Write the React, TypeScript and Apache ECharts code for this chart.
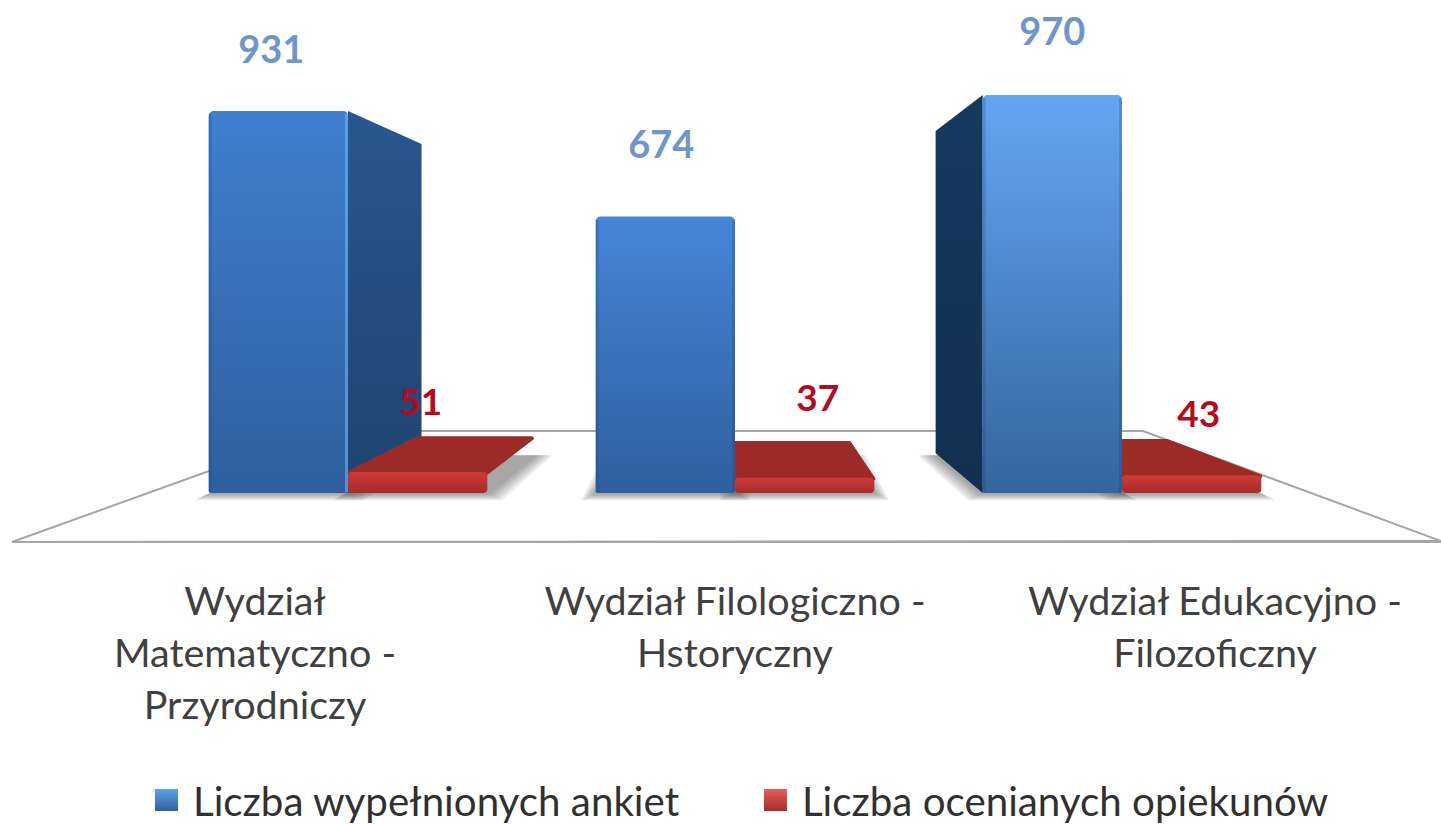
import React, { useEffect, useRef } from "react";
import * as echarts from "echarts";

const categories = [
  "Wydział\nMatematyczno -\nPrzyrodniczy",
  "Wydział Filologiczno -\nHstoryczny",
  "Wydział Edukacyjno -\nFilozoficzny",
];
const surveyName = "Liczba wypełnionych ankiet";
const tutorName = "Liczba ocenianych opiekunów";
const surveyValues = [931, 674, 970];
const tutorValues = [51, 37, 43];

// Layout and styling (not data)
const FONT = "Lato";
const BAR_FRACTION = 0.36;
const DEPTH = 0.19;
const TUTOR_DEPTH = 0.18;
const VANISH: [number, number] = [1, 509];
const surveyLabelOffset = [[-7, -63], [-4, -73], [0, -65]];
const tutorLabelOffset = [[3, -72], [13, -81], [7, -63]];
const frontTop = ["#3f80cf", "#4686d8", "#64a6f2"];
const frontBottom = ["#2f5f9e", "#2f5f9e", "#34659f"];
const sideTop = ["#28578f", "", "#16395f"];
const sideBottom = ["#1f4470", "", "#122f4f"];
const shadowLayers = [18, 15, 12, 9, 6, 3];

const vGrad = (a: string, b: string) =>
  new echarts.graphic.LinearGradient(0, 0, 0, 1, [
    { offset: 0, color: a },
    { offset: 1, color: b },
  ]);

function towards(p: number[], vp: number[], d = DEPTH) {
  return [p[0] + (vp[0] - p[0]) * d, p[1] + (vp[1] - p[1]) * d];
}

function geometry(api: any, sign: number) {
  const i = api.value(0);
  const v = api.value(1);
  const base = api.coord([i, 0]);
  const top = api.coord([i, v]);
  const w = api.size([1, 0])[0] * BAR_FRACTION;
  const vp = api.coord(VANISH);
  const x0 = sign < 0 ? base[0] - w : base[0];
  const x1 = x0 + w;
  return { i, v, x0, x1, w, yTop: top[1], yBase: base[1], vp };
}

function shadowItem(sign: number) {
  return (_: any, api: any) => {
    const g = geometry(api, sign);
    const a = towards([g.x0, g.yBase], g.vp);
    const b = towards([g.x1, g.yBase], g.vp);
    return {
      type: "group",
      children: shadowLayers.map((k) => ({
        type: "polygon",
        shape: {
          points: [
            [g.x0 - k * 0.8, g.yBase + k * 0.4],
            [g.x1 + k * 0.8, g.yBase + k * 0.4],
            [b[0] + k, b[1] + 2],
            [a[0] - k, a[1] + 2],
          ],
        },
        style: { fill: "rgba(80,80,80,0.11)" },
      })),
    };
  };
}

function sideItem(_: any, api: any) {
  const g = geometry(api, -1);
  if (g.i === 1) return { type: "group", children: [] };
  const edge = g.i < 1 ? g.x1 : g.x0;
  const t = towards([edge, g.yTop], g.vp);
  const b = towards([edge, g.yBase], g.vp);
  return {
    type: "polygon",
    shape: { points: [[edge, g.yTop], t, b, [edge, g.yBase]] },
    style: { fill: vGrad(sideTop[g.i], sideBottom[g.i]) },
  };
}

function frontItem(_: any, api: any) {
  const g = geometry(api, -1);
  const off = surveyLabelOffset[g.i];
  return {
    type: "group",
    children: [
      {
        type: "rect",
        shape: { x: g.x0, y: g.yTop, width: g.w, height: g.yBase - g.yTop, r: [5, 5, 2, 2] },
        style: { fill: vGrad(frontTop[g.i], frontBottom[g.i]) },
      },
      {
        type: "rect",
        shape: { x: g.x1 - 3, y: g.yTop + 3, width: 3, height: g.yBase - g.yTop - 4 },
        style: { fill: g.i === 0 ? "rgba(120,180,245,0.55)" : "rgba(25,60,110,0.22)" },
      },
      {
        type: "rect",
        shape: { x: g.x0, y: g.yTop + 3, width: 3, height: g.yBase - g.yTop - 4 },
        style: { fill: "rgba(25,60,110,0.22)" },
      },
      {
        type: "text",
        x: (g.x0 + g.x1) / 2 + off[0],
        y: g.yTop + off[1],
        style: {
          text: String(g.v),
          fontFamily: FONT,
          fontSize: 38,
          fontWeight: "bold",
          fill: "#7095c8",
          align: "center",
          verticalAlign: "middle",
        },
      },
    ],
  };
}

function tutorItem(_: any, api: any) {
  const g = geometry(api, 1);
  const off = tutorLabelOffset[g.i];
  const a = towards([g.x0, g.yTop], g.vp, TUTOR_DEPTH);
  const b = towards([g.x1, g.yTop], g.vp, TUTOR_DEPTH);
  return {
    type: "group",
    children: [
      {
        type: "polygon",
        shape: { points: [[g.x0 + 1, g.yTop + 1], a, b, [g.x1 - 1, g.yTop + 1]] },
        style: { fill: "#9c2b27", stroke: "#9c2b27", lineWidth: 4, lineJoin: "round" },
      },
      {
        type: "rect",
        shape: { x: g.x0, y: g.yTop, width: g.w, height: g.yBase - g.yTop, r: 4 },
        style: { fill: vGrad("#cc3b3a", "#a92a2a") },
      },
      {
        type: "text",
        x: (g.x0 + g.x1) / 2 + off[0],
        y: g.yTop + off[1],
        style: {
          text: String(g.v),
          fontFamily: FONT,
          fontSize: 37,
          fontWeight: "bold",
          fill: "#b00e20",
          align: "center",
          verticalAlign: "middle",
        },
      },
    ],
  };
}

const surveyData = surveyValues.map((v, i) => [i, v]);
const tutorData = tutorValues.map((v, i) => [i, v]);

export default function App() {
  const ref = useRef<HTMLDivElement>(null);
  useEffect(() => {
    const chart = echarts.init(ref.current!, null, { renderer: "svg" });
    const common = { type: "custom", coordinateSystem: "cartesian2d", xAxisIndex: 0, yAxisIndex: 0, silent: true, clip: false };
    chart.setOption({
      animation: false,
      backgroundColor: "#ffffff",
      grid: [
        { left: 154.5, top: 82.7, width: 1161, height: 410.3, outerBoundsMode: "none" },
        { left: 15, top: 500, width: 1440, height: 42, outerBoundsMode: "none" },
      ],
      xAxis: [
        { type: "category", gridIndex: 0, data: categories, show: false },
        {
          type: "category",
          gridIndex: 1,
          data: categories,
          axisLine: { show: false },
          axisTick: { show: false },
          axisLabel: {
            interval: 0,
            margin: 31,
            fontFamily: FONT,
            fontSize: 39.5,
            lineHeight: 52,
            color: "#404040",
          },
        },
      ],
      yAxis: [
        { type: "value", gridIndex: 0, min: 0, max: 1000, show: false },
        { type: "value", gridIndex: 1, min: 0, max: 1, show: false },
      ],
      legend: {
        left: 150,
        top: 775,
        padding: [5, 0, 0, 5],
        itemWidth: 23,
        itemHeight: 22,
        itemGap: 84,
        textStyle: { fontFamily: FONT, fontSize: 40.3, lineHeight: 38, color: "#303030", padding: [0, 0, 0, 10] },
        data: [
          { name: surveyName, icon: "rect", itemStyle: { color: vGrad("#5fa2ea", "#2f5f9e") } },
          { name: tutorName, icon: "rect", itemStyle: { color: vGrad("#e06060", "#a92a2a") } },
        ],
      },
      graphic: [
        {
          type: "polygon",
          z: 0,
          shape: { points: [[12, 542], [320, 431], [1143, 431], [1441, 541]] },
          style: { fill: "#ffffff", stroke: "#a6a6a6", lineWidth: 2 },
        },
        {
          type: "line",
          z: 0,
          shape: { x1: 12, y1: 542, x2: 1441, y2: 542 },
          style: { stroke: "#a6a6a6", lineWidth: 2 },
        },
      ],
      series: [
        { ...common, name: "shadowA", z: 1, data: surveyData, renderItem: shadowItem(-1) },
        { ...common, name: "shadowB", z: 1, data: tutorData, renderItem: shadowItem(1) },
        { ...common, name: "sides", z: 2, data: surveyData, renderItem: sideItem },
        { ...common, name: tutorName, z: 3, data: tutorData, renderItem: tutorItem },
        { ...common, name: surveyName, z: 4, data: surveyData, renderItem: frontItem },
      ],
    });
    return () => chart.dispose();
  }, []);
  return (
    <div
      ref={ref}
      style={{ position: "absolute", left: 0, top: 0, width: 1441, height: 824 }}
    />
  );
}
